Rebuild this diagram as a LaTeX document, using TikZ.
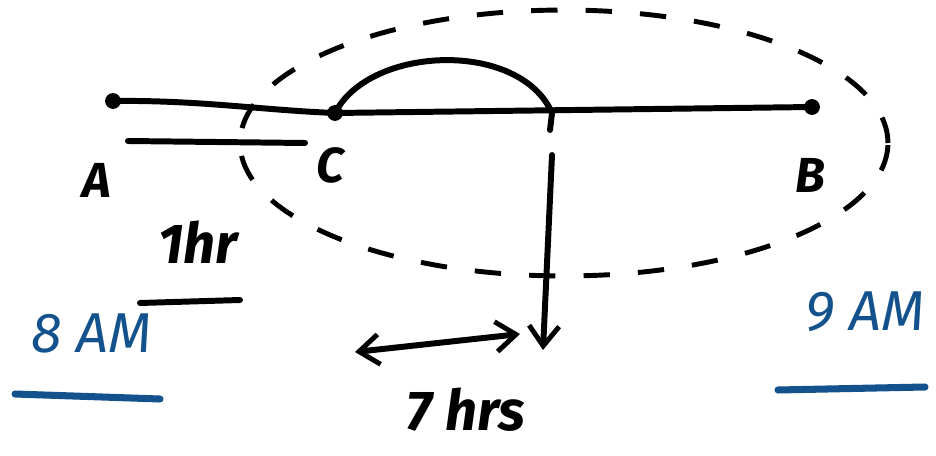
\documentclass[tikz,border=0pt]{standalone}
\usepackage{fontspec}
\setmainfont{Fira Sans}
\usetikzlibrary{arrows.meta,positioning}
\definecolor{InkBlack}{RGB}{0,0,0}
\definecolor{InkBlue}{RGB}{20,82,142}
\tikzset{
  traco/.style={draw=InkBlack, line width=3.4pt, line cap=round},
  tracoazul/.style={draw=InkBlue, line width=4pt, line cap=round},
  tracejado/.style={draw=InkBlack, line width=2.8pt, dash pattern=on 15pt off 16pt},
  ponto/.style={circle, fill=InkBlack, inner sep=0pt, minimum size=9pt},
  seta/.style={-{Straight Barb[length=4mm, width=6mm, line width=2.8pt]}, traco},
  setadupla/.style={{Straight Barb[length=4mm, width=6mm, line width=2.8pt]}-{Straight Barb[length=4mm, width=6mm, line width=2.8pt]}, traco},
  rotulo/.style={font=\fontsize{28}{30}\selectfont\bfseries\itshape, text=InkBlack, inner sep=0pt},
  rotuloazul/.style={font=\fontsize{32}{34}\selectfont\itshape, text=InkBlue, inner sep=0pt},
}

\begin{document}
\begin{tikzpicture}[x=0.02cm, y=-0.02cm]
  \useasboundingbox (0,0) rectangle (936,456);

  % ------------------------------------------------------------------ percurso A-C-B
  \node[ponto] (A) at (113,101) {};
  \node[ponto] (C) at (335,113) {};
  \node[ponto] (B) at (812,107) {};
  \draw[traco] (A.center) .. controls (200,100) and (260,110) .. (C.center) -- (B.center);
  \node[rotulo] (labA) at (97,180) {A};
  \node[rotulo] (labC) at (330,165) {C};
  \node[rotulo] (labB) at (810,175) {B};

  % arco sobre C e queda vertical
  \coordinate (arcofim) at (552,113);
  \coordinate (arcocauda) at (550,130);
  \draw[traco] (C.center) .. controls (370,45) and (520,40) .. (arcofim) -- (arcocauda);
  \coordinate (quedaini) at (552,155);
  \coordinate (quedafim) at (543,350);
  \draw[seta] (quedaini) -- (quedafim);

  % regiao tracejada
  \coordinate (centro) at (564,143);
  \draw[tracejado] (centro) ellipse [x radius=6.48cm, y radius=2.66cm];

  % ------------------------------------------------------------------ trecho A-C: 1hr
  \coordinate (cotaA) at (128,141);
  \coordinate (cotaC) at (305,143);
  \draw[traco] (cotaA) -- (cotaC);
  \node[rotulo, font=\fontsize{32}{34}\selectfont\bfseries\itshape] (umahora) at (198,242) {1hr};
  \coordinate (risco1) at (140,303);
  \coordinate (risco2) at (240,300);
  \draw[traco] (risco1) -- (risco2);

  % ------------------------------------------------------------------ 7 hrs
  \coordinate (duplaesq) at (355,352);
  \coordinate (dupladir) at (520,334);
  \draw[setadupla] (duplaesq) -- (dupladir);
  \node[rotulo, font=\fontsize{32}{34}\selectfont\bfseries\itshape] (seteh) at (466,410) {7 hrs};

  % ------------------------------------------------------------------ horarios
  \node[rotuloazul] (oito) at (92,333) {8 AM};
  \coordinate (sub8a) at (15,394);
  \coordinate (sub8b) at (160,399);
  \draw[tracoazul] (sub8a) -- (sub8b);
  \node[rotuloazul] (nove) at (865,312) {9 AM};
  \coordinate (sub9a) at (778,390);
  \coordinate (sub9b) at (925,387);
  \draw[tracoazul] (sub9a) -- (sub9b);
\end{tikzpicture}
\end{document}
